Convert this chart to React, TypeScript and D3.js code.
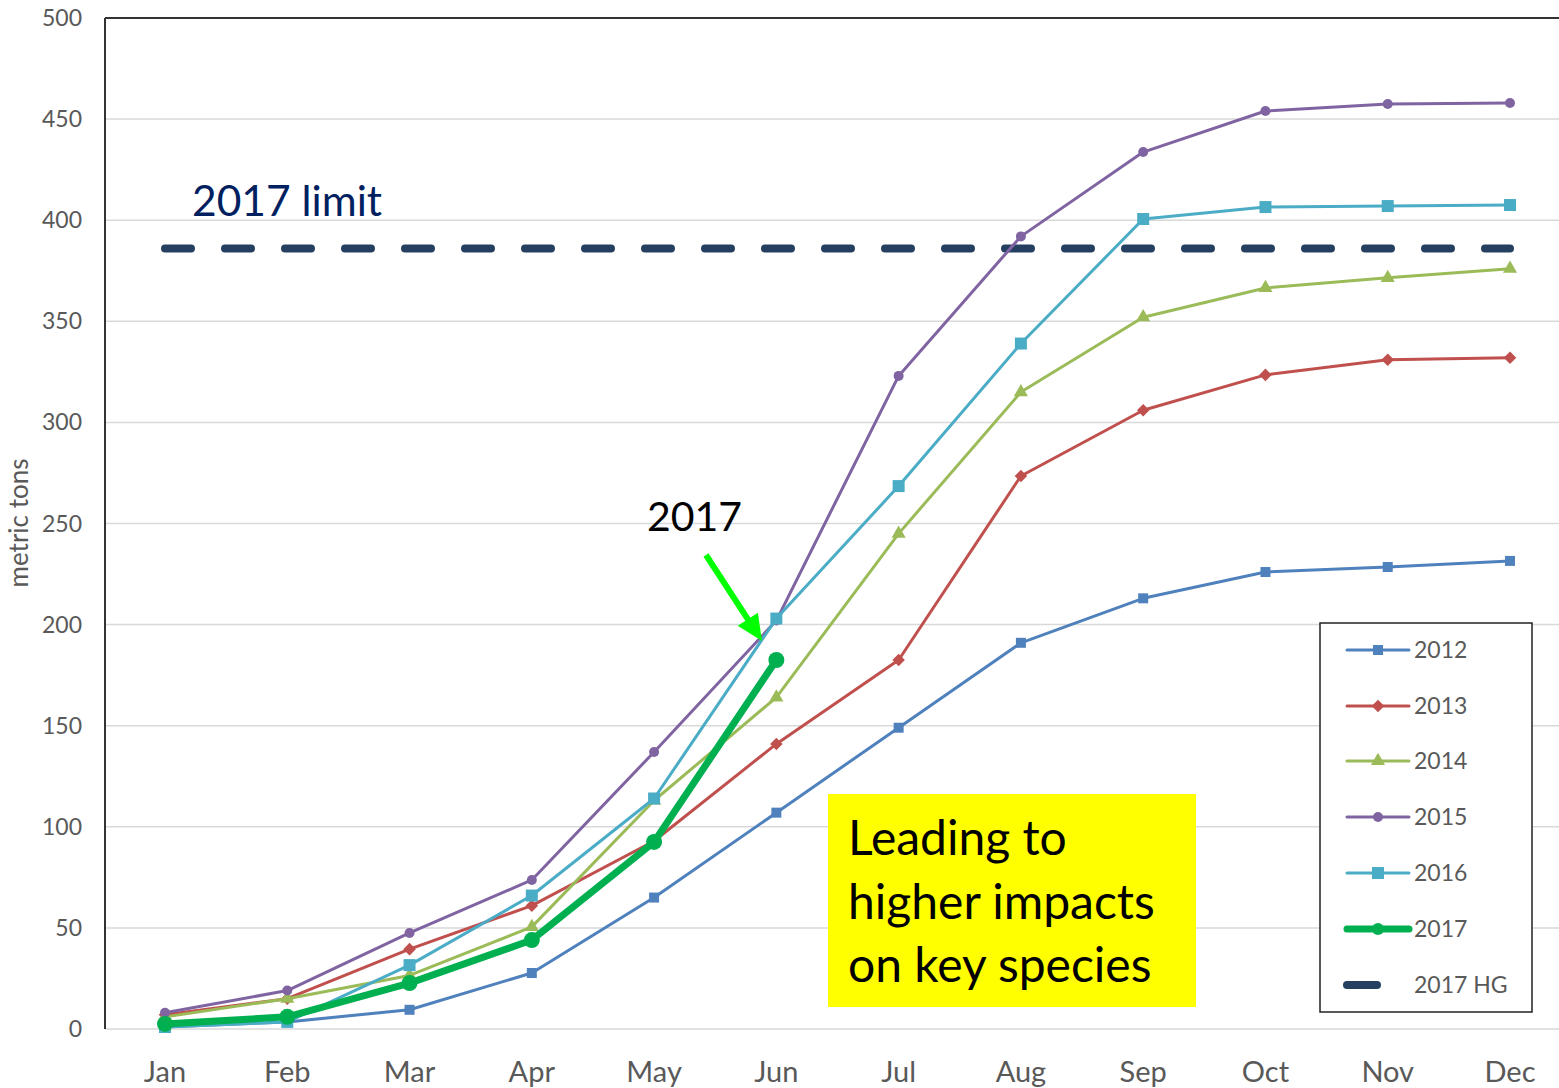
import React from "react";
import * as d3 from "d3";

const months = ["Jan", "Feb", "Mar", "Apr", "May", "Jun", "Jul", "Aug", "Sep", "Oct", "Nov", "Dec"];
const yTicks = [0, 50, 100, 150, 200, 250, 300, 350, 400, 450, 500];

const s2012 = [1, 3.5, 9.5, 27.7, 65, 107, 149, 191, 213, 226, 228.5, 231.5];
const s2013 = [7, 15, 39.5, 61, 93, 141, 182.5, 273.5, 306, 323.5, 331, 332];
const s2014 = [6, 15, 26.5, 50.5, 113, 164, 245, 315, 352, 366.5, 371.5, 376];
const s2015 = [8, 19, 47.5, 73.7, 137, 202, 323, 392, 433.7, 454, 457.5, 458];
const s2016 = [1, 3.5, 31.6, 66, 114, 203, 268.5, 339, 400.6, 406.5, 407, 407.5];
const s2017 = [2.5, 6, 22.7, 44, 92.5, 182.5];
const limit2017 = 386;

type Marker = "square" | "diamond" | "triangle" | "circle";
const seriesList: { name: string; values: number[]; color: string; marker: Marker; width: number; size: number }[] = [
  { name: "2012", values: s2012, color: "#4F81BD", marker: "square", width: 3, size: 10 },
  { name: "2013", values: s2013, color: "#C0504D", marker: "diamond", width: 3, size: 10 },
  { name: "2014", values: s2014, color: "#9BBB59", marker: "triangle", width: 3, size: 12 },
  { name: "2015", values: s2015, color: "#8064A2", marker: "circle", width: 3, size: 10 },
  { name: "2016", values: s2016, color: "#4BACC6", marker: "square", width: 3, size: 12 },
  { name: "2017", values: s2017, color: "#00B050", marker: "circle", width: 7, size: 16 },
];

const FONT = "Lato, 'Open Sans', sans-serif";

function markerPath(m: Marker, size: number) {
  const area = size * size;
  const sym =
    m === "square" ? d3.symbolSquare : m === "diamond" ? d3.symbolDiamond2 : m === "triangle" ? d3.symbolTriangle : d3.symbolCircle;
  const a = m === "circle" ? (Math.PI * area) / 4 : m === "triangle" ? area * 0.6 : area;
  return d3.symbol().type(sym).size(a)() as string;
}

export default function App() {
  const W = 1559;
  const H = 1088;
  const left = 105;
  const top = 18;
  const bottom = 1029;
  const x = d3.scalePoint<string>().domain(months).range([165, 1510]);
  const y = d3.scaleLinear().domain([0, 500]).range([bottom, top]);
  const line = d3
    .line<number>()
    .x((_, i) => x(months[i]) as number)
    .y((v) => y(v));

  const legendYs = [650, 706, 761, 817, 873, 929, 985];

  // arrow geometry
  const ax0 = 706, ay0 = 555, ax1 = 762, ay1 = 641;
  const len = Math.hypot(ax1 - ax0, ay1 - ay0);
  const ux = (ax1 - ax0) / len, uy = (ay1 - ay0) / len;
  const hl = 26, hw = 12;
  const bx = ax1 - ux * hl, by = ay1 - uy * hl;
  const head = `M ${ax1} ${ay1} L ${bx - uy * hw} ${by + ux * hw} L ${bx + uy * hw} ${by - ux * hw} Z`;

  return (
    <svg width={W} height={H} style={{ position: "absolute", left: 0, top: 0, background: "#fff" }}>
      <rect x={0} y={0} width={W} height={H} fill="#fff" />
      {yTicks.map((t) => (
        <g key={t}>
          {t > 0 && t < 500 && <line x1={left} x2={W} y1={y(t)} y2={y(t)} stroke="#D9D9D9" strokeWidth={1.5} />}
          <text x={82} y={y(t) + 8} textAnchor="end" fontFamily={FONT} fontSize={23} fill="#595959">
            {t}
          </text>
        </g>
      ))}
      <line x1={left} x2={W} y1={bottom} y2={bottom} stroke="#D9D9D9" strokeWidth={1.5} />
      <line x1={left} x2={W} y1={top} y2={top} stroke="#333" strokeWidth={2} />
      <line x1={left} x2={left} y1={top} y2={bottom} stroke="#333" strokeWidth={2} />
      {months.map((m) => (
        <text key={m} x={x(m)} y={1082} textAnchor="middle" fontFamily={FONT} fontSize={29} fill="#595959">
          {m}
        </text>
      ))}
      <text
        transform={`translate(28, 523) rotate(-90)`}
        textAnchor="middle"
        fontFamily={FONT}
        fontSize={26}
        fill="#595959"
      >
        metric tons
      </text>

      {/* HG dashed line */}
      <line
        x1={x("Jan")}
        x2={x("Dec")}
        y1={y(limit2017)}
        y2={y(limit2017)}
        stroke="#243F60"
        strokeWidth={8}
        strokeDasharray="26 34"
        strokeLinecap="round"
      />

      {seriesList.map((s) => (
        <g key={s.name}>
          <path d={line(s.values) as string} fill="none" stroke={s.color} strokeWidth={s.width} strokeLinejoin="round" />
          {s.values.map((v, i) => (
            <path
              key={i}
              d={markerPath(s.marker, s.size)}
              transform={`translate(${x(months[i])},${y(v)})`}
              fill={s.color}
            />
          ))}
        </g>
      ))}

      <text x={192} y={216} fontFamily={FONT} fontSize={42.5} fill="#002060">
        2017 limit
      </text>
      <text x={647} y={531} fontFamily={FONT} fontSize={41} fill="#000">
        2017
      </text>
      {/* green arrow */}
      <line x1={ax0} y1={ay0} x2={bx + ux * 2} y2={by + uy * 2} stroke="#00FF00" strokeWidth={6} />
      <path d={head} fill="#00FF00" />

      {/* yellow box */}
      <rect x={828} y={794} width={368} height={213} fill="#FFFF00" />
      {["Leading to", "higher impacts", "on key species"].map((t, i) => (
        <text key={t} x={848} y={855 + i * 63.5} fontFamily={FONT} fontSize={48} fill="#000">
          {t}
        </text>
      ))}

      {/* legend */}
      <rect x={1320} y={623} width={212} height={389} fill="#fff" stroke="#222" strokeWidth={1.5} />
      {seriesList.map((s, i) => (
        <g key={s.name}>
          <line x1={1347} x2={1409} y1={legendYs[i]} y2={legendYs[i]} stroke={s.color} strokeWidth={s.width} strokeLinecap="round" />
          <path d={markerPath(s.marker, s.name === "2017" ? 12 : s.size)} transform={`translate(1378,${legendYs[i]})`} fill={s.color} />
          <text x={1414} y={legendYs[i] + 8} fontFamily={FONT} fontSize={23} fill="#595959">
            {s.name}
          </text>
        </g>
      ))}
      <line x1={1347} x2={1377} y1={legendYs[6]} y2={legendYs[6]} stroke="#243F60" strokeWidth={8} strokeLinecap="round" />
      <text x={1414} y={legendYs[6] + 8} fontFamily={FONT} fontSize={23} fill="#595959">
        2017 HG
      </text>
    </svg>
  );
}
